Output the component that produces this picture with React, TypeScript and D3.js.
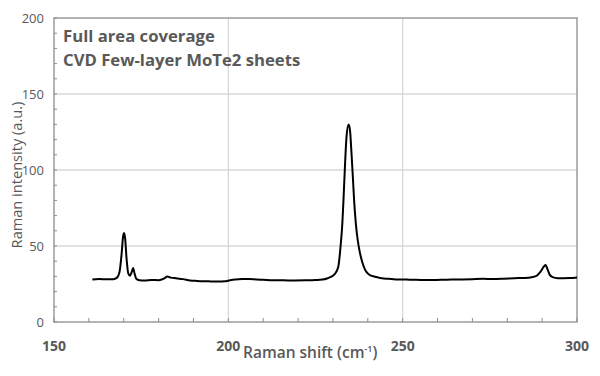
import React from "react";
import * as d3 from "d3";

const shift = [161,163,165,167,168,168.8,169.4,169.8,170.1,170.4,170.8,171.3,171.8,172.3,172.7,173.1,173.6,174.5,176,178,180,181.5,182.5,183.5,185,187,189,191,193,195,197,199,200.5,202,204,206,208,210,213,216,219,222,225,227,228.5,229.5,230.5,231.5,232.2,232.7,233,233.4,233.9,234.5,234.9,235.3,235.7,236.1,236.6,237.1,237.7,238.4,239.2,240.2,241.2,242.5,244,246,248,250,252,255,258,261,264,267,270,273,276,279,282,285,287,288.5,289.5,290.5,291,291.5,292.2,293,294.5,296,298,300];
const intensity = [28,28.3,28.1,28.2,29,33,45,56,58.5,55,42,32,30.5,33,35.5,32,28.5,27.5,27.3,27.6,27.5,28.5,30,29.2,28.8,28.2,27.3,27,26.8,26.7,26.6,26.8,27.5,28,28.3,28.3,28,27.8,27.5,27.4,27.3,27.4,27.6,27.9,28.8,29.8,31.5,36,50,65,79,100,122,130,126,112,96,79,64,54,46,39.5,34.5,31.5,30.3,29.6,28.8,28.4,28,28,27.8,27.7,27.6,27.8,27.9,28,28.2,28.4,28.3,28.5,28.8,29,29.5,30.5,33,36.5,37.5,35,31,29.5,28.8,28.8,28.9,29.3];
const xTicks = [150, 200, 250, 300];
const yTicks = [0, 50, 100, 150, 200];
const titleLines = ["Full area coverage", "CVD Few-layer MoTe2 sheets"];

export default function App() {
  const L = 54, R = 577, T = 18, B = 322;
  const x = d3.scaleLinear().domain([150, 300]).range([L, R]);
  const y = d3.scaleLinear().domain([0, 200]).range([B, T]);
  const data = shift.map((s, i) => [s, intensity[i]] as [number, number]);
  const line = d3.line<[number, number]>().x(d => x(d[0])).y(d => y(d[1])).curve(d3.curveMonotoneX);
  const minorX = d3.range(150, 301, 10);
  const minorY = d3.range(0, 201, 10);
  const font = "'Open Sans', 'Liberation Sans', sans-serif";
  return (
    <svg width={600} height={376} style={{ position: "absolute", left: 0, top: 0, background: "#fff" }} fontFamily={font}>
      {yTicks.filter(t => t > 0 && t < 200).map(t => (
        <line key={"gy" + t} x1={L} x2={R} y1={y(t)} y2={y(t)} stroke="#d9d9d9" strokeWidth={1.3} />
      ))}
      {xTicks.filter(t => t > 150 && t < 300).map(t => (
        <line key={"gx" + t} x1={x(t)} x2={x(t)} y1={T} y2={B} stroke="#d9d9d9" strokeWidth={1.3} />
      ))}
      <rect x={L} y={T} width={R - L} height={B - T} fill="none" stroke="#8c8c8c" strokeWidth={1.3} />
      {minorX.map(t => (
        <line key={"mx" + t} x1={x(t)} x2={x(t)} y1={B} y2={B - 4} stroke="#8c8c8c" strokeWidth={1} />
      ))}
      {minorY.map(t => (
        <line key={"my" + t} x1={L} x2={L + 3} y1={y(t)} y2={y(t)} stroke="#8c8c8c" strokeWidth={1} />
      ))}
      <path d={line(data) || ""} fill="none" stroke="#000" strokeWidth={2} strokeLinejoin="round" />
      {yTicks.map(t => (
        <text key={"ty" + t} x={L - 10} y={y(t) + 5} textAnchor="end" fontSize={13} fill="#595959">{t}</text>
      ))}
      {xTicks.map(t => (
        <text key={"tx" + t} x={x(t)} y={351} textAnchor="middle" fontSize={14} fontWeight="bold" fill="#595959">{t}</text>
      ))}
      <text x={243} y={358} fontSize={15.5} fontWeight="600" fill="#595959">
        Raman shift (cm<tspan fontSize={9} dy={-6}>-1</tspan><tspan dy={6}>)</tspan>
      </text>
      <text transform="translate(22,175) rotate(-90)" textAnchor="middle" fontSize={14.6} fill="#595959">Raman intensity (a.u.)</text>
      {titleLines.map((s, i) => (
        <text key={"tl" + i} x={63} y={42 + i * 24} fontSize={16.7} fontWeight="bold" fill="#595959">{s}</text>
      ))}
    </svg>
  );
}
